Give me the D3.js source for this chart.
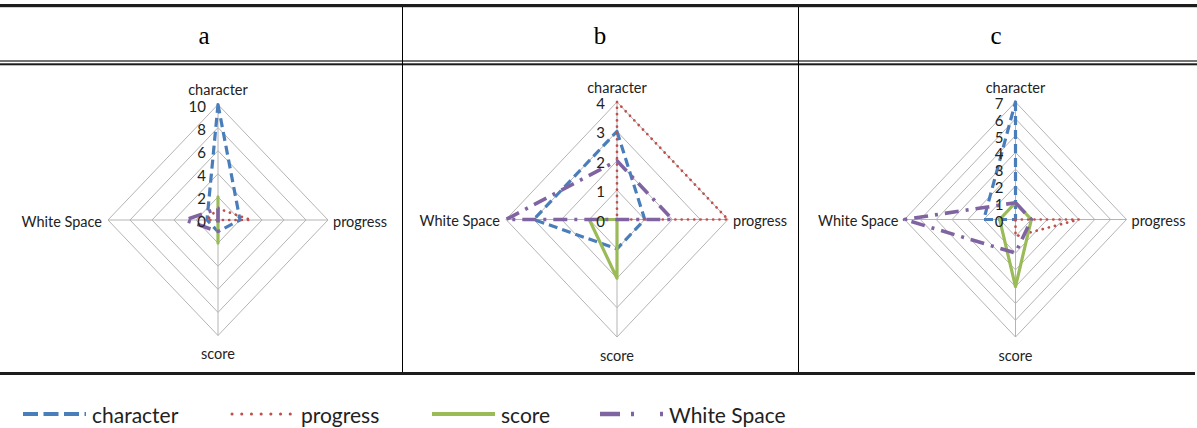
<!DOCTYPE html>
<html>
<head>
<meta charset="utf-8">
<script src="https://cdn.jsdelivr.net/npm/d3@7"></script>
<style>
  html, body { margin: 0; padding: 0; background: #fff; }
  svg { display: block; }
</style>
</head>
<body>
<svg id="chart" width="1197" height="428"></svg>
<script>
// Radar axes (clockwise from top) and series names
const axes = ["character", "progress", "score", "White Space"];
const seriesNames = ["character", "progress", "score", "White Space"];
const panelTitles = ["a", "b", "c"];

// Panel a (0–10, step 2)
const aMax = 10, aStep = 2;
const aCharacter = [10, 2, 1, 1];
const aProgress = [1, 3, 0, 1];
const aScore = [2, 0, 2, 0];
const aWhiteSpace = [1, 0, 1, 3];

// Panel b (0–4, step 1)
const bMax = 4, bStep = 1;
const bCharacter = [3, 1, 1, 3];
const bProgress = [4, 4, 0, 0];
const bScore = [0, 0, 2, 1];
const bWhiteSpace = [2, 2, 0, 4];

// Panel c (0–7, step 1)
const cMax = 7, cStep = 1;
const cCharacter = [7, 0, 0, 2];
const cProgress = [0, 4, 1, 0];
const cScore = [1, 1, 4, 1];
const cWhiteSpace = [1, 1, 2, 7];

const panels = [
  { max: aMax, step: aStep, series: [aCharacter, aProgress, aScore, aWhiteSpace], cx: 218, cy: 220, rx: 110, ry: 115.5 },
  { max: bMax, step: bStep, series: [bCharacter, bProgress, bScore, bWhiteSpace], cx: 617, cy: 219.5, rx: 111, ry: 117.5 },
  { max: cMax, step: cStep, series: [cCharacter, cProgress, cScore, cWhiteSpace], cx: 1015.5, cy: 219.5, rx: 111, ry: 117.5 }
];

// Line styles per series
const styles = [
  { color: "#4a7ebb", width: 3.2, dash: "9,5", cap: "butt" },
  { color: "#c0504d", width: 2.7, dash: "0.1,6.2", cap: "round" },
  { color: "#9bbb59", width: 3.2, dash: null, cap: "butt" },
  { color: "#8064a2", width: 3.6, dash: "14,7,3,7", cap: "butt" }
];
const legendStyles = [
  { dash: "15,5.5", width: 4, cap: "butt" },
  { dash: "0.1,9.6", width: 3, cap: "round" },
  { dash: null, width: 4, cap: "butt" },
  { dash: "20,11,3,26,3,40", width: 4.5, cap: "butt" }
];

const svg = d3.select("#chart");
const W = 1197;
const labelFont = "Lato, Open Sans, sans-serif";

// Axis direction vectors: up, right, down, left
const dirs = [[0, -1], [1, 0], [0, 1], [-1, 0]];

// ---------- table rules ----------
const rules = svg.append("g");
rules.append("rect").attr("x", 0).attr("y", 4).attr("width", W).attr("height", 3.2).attr("fill", "#1c1c1c");
rules.append("rect").attr("x", 0).attr("y", 60.3).attr("width", W).attr("height", 1.4).attr("fill", "#3a3a3a");
rules.append("rect").attr("x", 0).attr("y", 63.3).attr("width", W).attr("height", 2).attr("fill", "#1c1c1c");
rules.append("rect").attr("x", 0).attr("y", 372).attr("width", 1195).attr("height", 3).attr("fill", "#1c1c1c");
[402.5, 798.5].forEach(x => {
  rules.append("line").attr("x1", x).attr("x2", x).attr("y1", 7).attr("y2", 372)
    .attr("stroke", "#000").attr("stroke-width", 1);
});

// Column titles
const titleX = [204, 600, 996];
svg.append("g").selectAll("text").data(panelTitles).join("text")
  .attr("x", (d, i) => titleX[i]).attr("y", 44)
  .attr("text-anchor", "middle")
  .attr("font-family", "Liberation Serif, DejaVu Serif, serif")
  .attr("font-size", 25)
  .attr("fill", "#000")
  .text(d => d);

// ---------- radar panels ----------
panels.forEach(p => {
  const g = svg.append("g");
  const sx = d3.scaleLinear().domain([0, p.max]).range([0, p.rx]);
  const sy = d3.scaleLinear().domain([0, p.max]).range([0, p.ry]);
  const pt = (v, i) => [p.cx + dirs[i][0] * sx(v), p.cy + dirs[i][1] * sy(v)];
  const ticks = d3.range(0, p.max + p.step / 2, p.step);
  const line = d3.line().curve(d3.curveLinearClosed);

  // grid rings
  g.selectAll("path.ring").data(ticks.filter(t => t > 0)).join("path")
    .attr("class", "ring")
    .attr("d", t => line(axes.map((a, i) => pt(t, i))))
    .attr("fill", "none").attr("stroke", "#b4b4b4").attr("stroke-width", 1);

  // spokes
  g.selectAll("line.spoke").data(axes).join("line")
    .attr("class", "spoke")
    .attr("x1", p.cx).attr("y1", p.cy)
    .attr("x2", (a, i) => pt(p.max, i)[0]).attr("y2", (a, i) => pt(p.max, i)[1])
    .attr("stroke", "#b4b4b4").attr("stroke-width", 1);

  // series polygons
  p.series.forEach((vals, s) => {
    const st = styles[s];
    g.append("path")
      .attr("d", line(vals.map((v, i) => pt(v, i))))
      .attr("fill", "none")
      .attr("stroke", st.color)
      .attr("stroke-width", st.width)
      .attr("stroke-dasharray", st.dash)
      .attr("stroke-linecap", st.cap)
      .attr("stroke-linejoin", "round");
  });

  // tick labels
  g.selectAll("text.tick").data(ticks).join("text")
    .attr("class", "tick")
    .attr("x", p.cx - 12)
    .attr("y", t => p.cy - sy(t) + 1)
    .attr("text-anchor", "end")
    .attr("dominant-baseline", "central")
    .attr("font-family", labelFont)
    .attr("font-size", 15)
    .attr("fill", "#222")
    .text(t => t);

  // axis labels
  const lab = [
    { x: p.cx, y: p.cy - p.ry - 15, anchor: "middle" },
    { x: p.cx + p.rx + 5, y: p.cy + 1, anchor: "start" },
    { x: p.cx, y: p.cy + p.ry + 18, anchor: "middle" },
    { x: p.cx - p.rx - 6, y: p.cy + 1, anchor: "end" }
  ];
  g.selectAll("text.axis").data(axes).join("text")
    .attr("class", "axis")
    .attr("x", (a, i) => lab[i].x)
    .attr("y", (a, i) => lab[i].y)
    .attr("text-anchor", (a, i) => lab[i].anchor)
    .attr("dominant-baseline", "central")
    .attr("font-family", labelFont)
    .attr("font-size", 14.5)
    .attr("fill", "#222")
    .text(a => a);
});

// ---------- legend ----------
const legendX = [23, 232, 432, 600];
const lg = svg.append("g");
seriesNames.forEach((name, s) => {
  const x0 = legendX[s];
  const st = legendStyles[s];
  lg.append("line")
    .attr("x1", x0).attr("x2", x0 + 63).attr("y1", 414).attr("y2", 414)
    .attr("stroke", styles[s].color)
    .attr("stroke-width", st.width)
    .attr("stroke-dasharray", st.dash)
    .attr("stroke-linecap", st.cap);
  lg.append("text")
    .attr("x", x0 + 69)
    .attr("y", 414)
    .attr("dominant-baseline", "central")
    .attr("font-family", labelFont)
    .attr("font-size", 21)
    .attr("fill", "#222")
    .text(name);
});
</script>
</body>
</html>
